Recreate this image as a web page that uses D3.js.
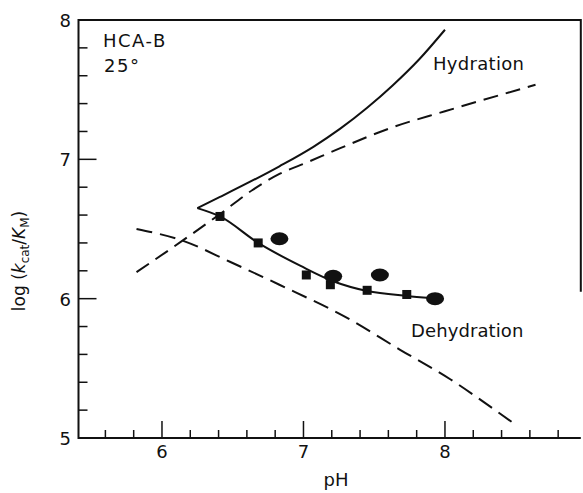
<!DOCTYPE html>
<html>
<head>
<meta charset="utf-8">
<script src="https://cdn.jsdelivr.net/npm/d3@7"></script>
<style>
  html, body { margin: 0; padding: 0; background: #fff; }
  text { font-family: "DejaVu Sans", sans-serif; fill: #111; }
</style>
</head>
<body>
<div id="chart"></div>
<script>
// Measured points (pH, log kcat/KM)
var squarePH  = [6.41, 6.68, 7.02, 7.19, 7.45, 7.73];
var squareLog = [6.59, 6.40, 6.17, 6.10, 6.06, 6.03];
var ovalPH    = [6.83, 7.21, 7.54, 7.93];
var ovalLog   = [6.43, 6.16, 6.17, 6.00];

// Calculated hydration curve (solid)
var hydSolidPH  = [6.25, 6.41, 6.83, 7.07, 7.26, 7.45, 7.63, 7.82, 8.00];
var hydSolidLog = [6.65, 6.73, 6.95, 7.09, 7.22, 7.37, 7.53, 7.72, 7.93];

// Fit through the data points (solid, from the vertex)
var fitPH  = [6.25, 6.41, 6.68, 6.98, 7.21, 7.45, 7.73, 7.90];
var fitLog = [6.65, 6.59, 6.40, 6.235, 6.125, 6.055, 6.02, 6.005];

// Hydration (dashed)
var hydDashPH  = [5.82, 6.15, 6.40, 6.64, 6.83, 7.03, 7.26, 7.63, 8.00, 8.64];
var hydDashLog = [6.19, 6.42, 6.60, 6.78, 6.895, 6.98, 7.08, 7.23, 7.345, 7.535];

// Dehydration (dashed)
var dehPH  = [5.82, 6.15, 6.48, 6.83, 7.33, 7.68, 8.04, 8.32, 8.50];
var dehLog = [6.50, 6.415, 6.265, 6.10, 5.85, 5.635, 5.42, 5.225, 5.095];

var xTicks = [6, 7, 8];
var yTicks = [5, 6, 7, 8];

var W = 583, H = 493;
var svg = d3.select("#chart").append("svg").attr("width", W).attr("height", H);

var x = d3.scaleLinear().domain([5.41, 8.96]).range([78.5, 580.8]);
var y = d3.scaleLinear().domain([5, 8]).range([438, 20]);

var ink = "#111";

// minor / major ticks
var xMinor = d3.range(5.6, 8.95, 0.2).map(function(v){ return +v.toFixed(1); });
var yMinor = d3.range(5.2, 7.95, 0.2).map(function(v){ return +v.toFixed(1); });

var gx = svg.append("g");
gx.selectAll("line").data(xMinor).enter().append("line")
  .attr("x1", function(d){ return x(d); }).attr("x2", function(d){ return x(d); })
  .attr("y1", y(5)).attr("y2", function(d){ return xTicks.indexOf(d) >= 0 ? y(5) - 17 : y(5) - 8; })
  .attr("stroke", ink).attr("stroke-width", 1.5);
gx.selectAll("text").data(xTicks).enter().append("text")
  .attr("x", function(d){ return x(d); }).attr("y", 458)
  .attr("text-anchor", "middle").attr("font-size", 18)
  .text(function(d){ return d; });

var gy = svg.append("g");
gy.selectAll("line").data(yMinor).enter().append("line")
  .attr("x1", x(5.41)).attr("x2", function(d){ return yTicks.indexOf(d) >= 0 ? x(5.41) + 18 : x(5.41) + 9; })
  .attr("y1", function(d){ return y(d); }).attr("y2", function(d){ return y(d); })
  .attr("stroke", ink).attr("stroke-width", 1.5);
gy.selectAll("text").data(yTicks).enter().append("text")
  .attr("x", 71).attr("y", function(d){ return y(d) + 7; })
  .attr("text-anchor", "end").attr("font-size", 18)
  .text(function(d){ return d; });

// frame
svg.append("path")
  .attr("d", "M" + x(8.96) + "," + y(6.05) + "V" + y(8) + "H" + x(5.41) + "V" + y(5) + "H" + x(8.96))
  .attr("fill", "none").attr("stroke", ink).attr("stroke-width", 2);

// curves
function pts(px, py) { return px.map(function(v, i){ return [v, py[i]]; }); }
var line = d3.line()
  .x(function(d){ return x(d[0]); })
  .y(function(d){ return y(d[1]); })
  .curve(d3.curveMonotoneX);

svg.append("path").attr("d", line(pts(hydSolidPH, hydSolidLog)))
  .attr("fill", "none").attr("stroke", ink).attr("stroke-width", 2);
svg.append("path").attr("d", line(pts(fitPH, fitLog)))
  .attr("fill", "none").attr("stroke", ink).attr("stroke-width", 2);
svg.append("path").attr("d", line(pts(hydDashPH, hydDashLog)))
  .attr("fill", "none").attr("stroke", ink).attr("stroke-width", 2)
  .attr("stroke-dasharray", "15,8");
svg.append("path").attr("d", line(pts(dehPH, dehLog)))
  .attr("fill", "none").attr("stroke", ink).attr("stroke-width", 2)
  .attr("stroke-dasharray", "16,8");

// data points
svg.append("g").selectAll("rect").data(pts(squarePH, squareLog)).enter().append("rect")
  .attr("x", function(d){ return x(d[0]) - 4.5; })
  .attr("y", function(d){ return y(d[1]) - 4.5; })
  .attr("width", 9).attr("height", 9).attr("fill", ink);
svg.append("g").selectAll("ellipse").data(pts(ovalPH, ovalLog)).enter().append("ellipse")
  .attr("cx", function(d){ return x(d[0]); })
  .attr("cy", function(d){ return y(d[1]); })
  .attr("rx", 9).attr("ry", 6.5).attr("fill", ink);

// labels
svg.append("text").attr("x", 103).attr("y", 47).attr("font-size", 18)
  .attr("letter-spacing", 1.5).text("HCA-B");
svg.append("text").attr("x", 104).attr("y", 72).attr("font-size", 18)
  .attr("letter-spacing", 1.5).text("25°");
svg.append("text").attr("x", 433).attr("y", 70).attr("font-size", 18)
  .attr("letter-spacing", 0.3).text("Hydration");
svg.append("text").attr("x", 411).attr("y", 337).attr("font-size", 18)
  .attr("letter-spacing", 0.1).text("Dehydration");
svg.append("text").attr("x", 336).attr("y", 486).attr("font-size", 18)
  .attr("text-anchor", "middle").text("pH");

var yl = svg.append("text")
  .attr("transform", "translate(25,261) rotate(-90)")
  .attr("text-anchor", "middle").attr("font-size", 17);
yl.append("tspan").text("log  (");
yl.append("tspan").attr("font-style", "italic").text("k");
yl.append("tspan").attr("font-size", 12).attr("dy", 4).text("cat");
yl.append("tspan").attr("dy", -4).text("/");
yl.append("tspan").attr("font-style", "italic").text("K");
yl.append("tspan").attr("font-size", 12).attr("dy", 4).text("M");
yl.append("tspan").attr("dy", -4).text(")");
</script>
</body>
</html>
